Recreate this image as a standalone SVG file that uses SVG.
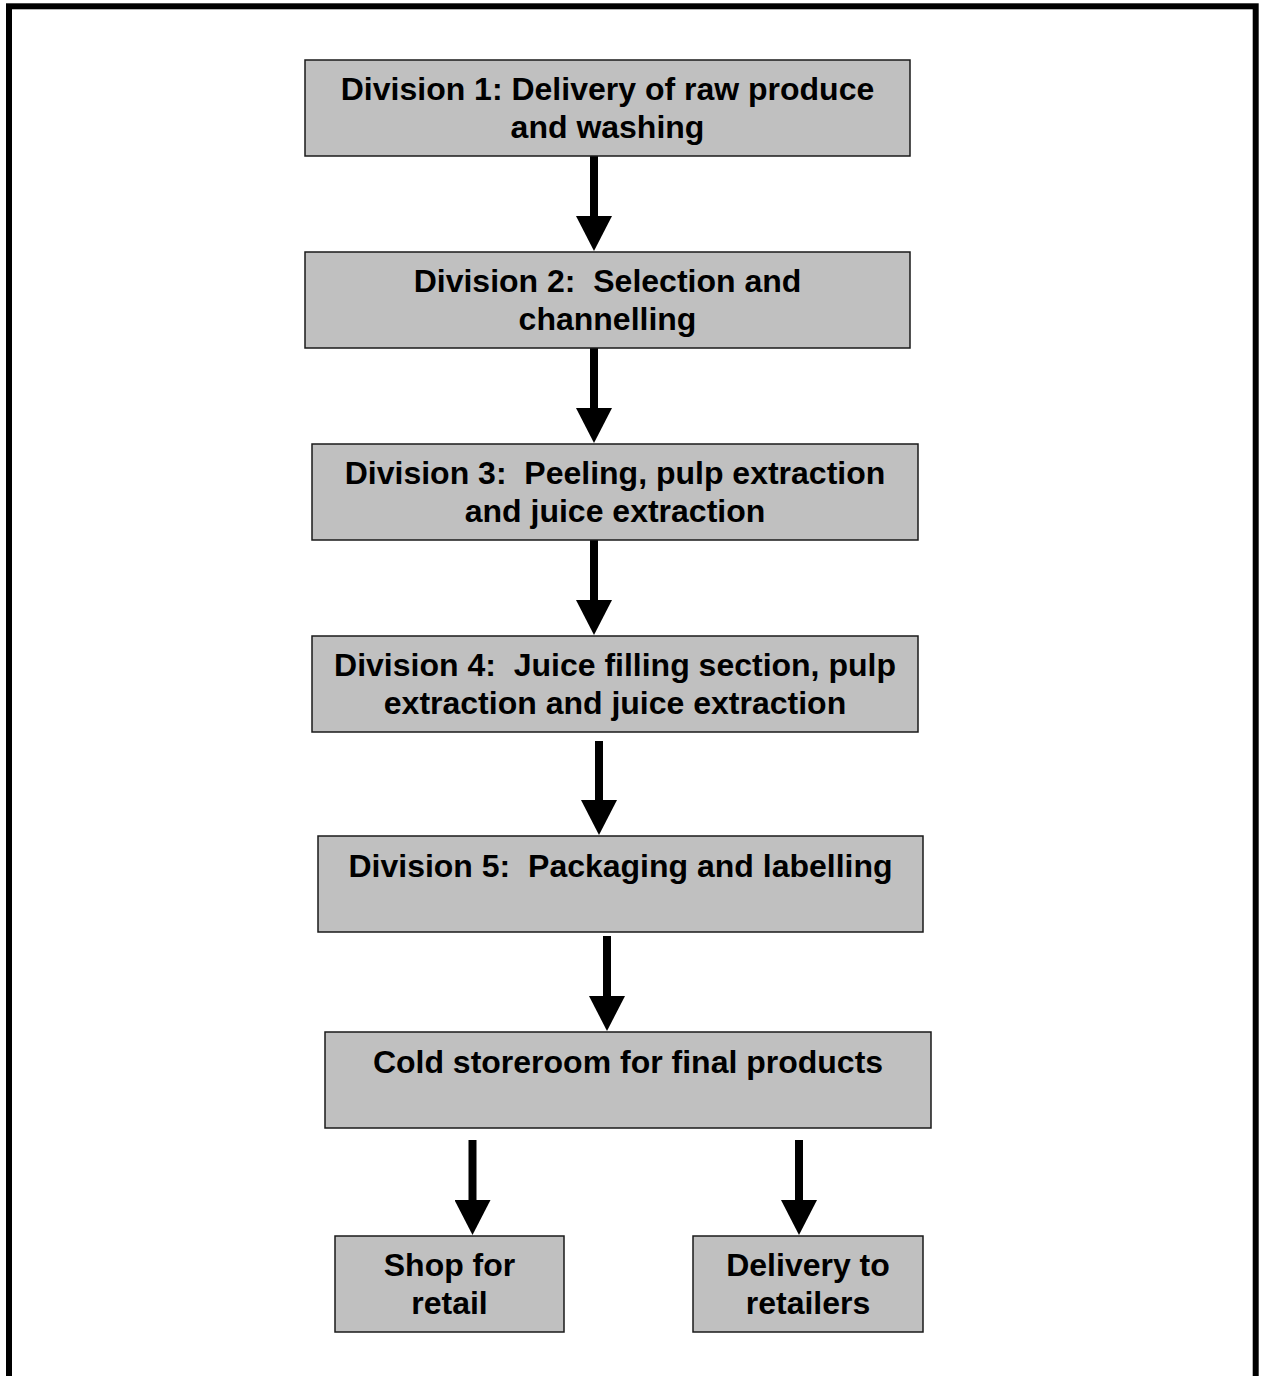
<svg xmlns="http://www.w3.org/2000/svg" width="1262" height="1376" viewBox="0 0 1262 1376">
<style>
.box{fill:#c0c0c0;stroke:#1a1a1a;stroke-width:1.5}
.t{font-family:"Liberation Sans",Arial,sans-serif;font-weight:bold;font-size:32px;fill:#000;text-anchor:middle;white-space:pre}
.c{stroke:#000;stroke-width:8;fill:none}
</style>
<defs>
<marker id="ah" markerUnits="userSpaceOnUse" markerWidth="35" markerHeight="36" viewBox="0 0 35 36" refX="0" refY="18" orient="auto">
<path d="M0,0 L35,18 L0,36 z" fill="#000"/>
</marker>
</defs>
<rect x="0" y="0" width="1262" height="1376" fill="#fff"/>
<rect x="9" y="6.3" width="1246.7" height="1420" fill="none" stroke="#000" stroke-width="6"/>
<g id="connectors">
<line class="c" x1="594" y1="156" x2="594" y2="216" marker-end="url(#ah)"/>
<line class="c" x1="594" y1="348" x2="594" y2="408" marker-end="url(#ah)"/>
<line class="c" x1="594" y1="540" x2="594" y2="600" marker-end="url(#ah)"/>
<line class="c" x1="599" y1="741" x2="599" y2="800" marker-end="url(#ah)"/>
<line class="c" x1="607" y1="936" x2="607" y2="996" marker-end="url(#ah)"/>
<line class="c" x1="472.5" y1="1140" x2="472.5" y2="1200" marker-end="url(#ah)"/>
<line class="c" x1="799" y1="1140" x2="799" y2="1200" marker-end="url(#ah)"/>
</g>
<g id="div1">
<rect class="box" x="305" y="60" width="605" height="96"/>
<text class="t" x="607.5" y="100">Division 1: Delivery of raw produce</text>
<text class="t" x="607.5" y="138">and washing</text>
</g>
<g id="div2">
<rect class="box" x="305" y="252" width="605" height="96"/>
<text class="t" x="607.5" y="292">Division 2:  Selection and</text>
<text class="t" x="607.5" y="330">channelling</text>
</g>
<g id="div3">
<rect class="box" x="312" y="444" width="606" height="96"/>
<text class="t" x="615" y="484">Division 3:  Peeling, pulp extraction</text>
<text class="t" x="615" y="522">and juice extraction</text>
</g>
<g id="div4">
<rect class="box" x="312" y="636" width="606" height="96"/>
<text class="t" x="615" y="676">Division 4:  Juice filling section, pulp</text>
<text class="t" x="615" y="714">extraction and juice extraction</text>
</g>
<g id="div5">
<rect class="box" x="318" y="836" width="605" height="96"/>
<text class="t" x="620.5" y="877">Division 5:  Packaging and labelling</text>
</g>
<g id="cold">
<rect class="box" x="325" y="1032" width="606" height="96"/>
<text class="t" x="628" y="1073">Cold storeroom for final products</text>
</g>
<g id="shop">
<rect class="box" x="335" y="1236" width="229" height="96"/>
<text class="t" x="449.5" y="1276">Shop for</text>
<text class="t" x="449.5" y="1314">retail</text>
</g>
<g id="delivery">
<rect class="box" x="693" y="1236" width="230" height="96"/>
<text class="t" x="808" y="1276">Delivery to</text>
<text class="t" x="808" y="1314">retailers</text>
</g>
</svg>
